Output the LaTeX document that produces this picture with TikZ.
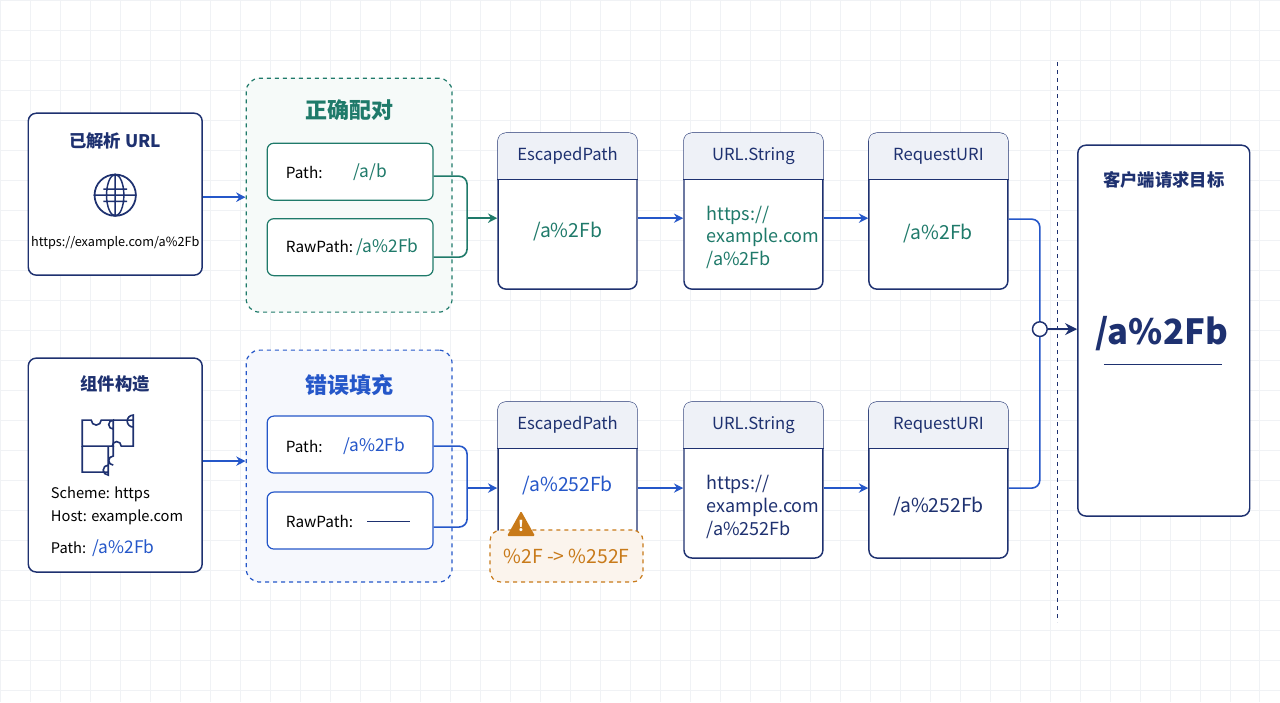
\documentclass[tikz,border=0pt]{standalone}
\usepackage{fontspec}
\setmainfont{Noto Sans CJK SC}
\usetikzlibrary{arrows.meta,positioning,calc}
\definecolor{navy}{HTML}{1E3170}
\definecolor{flowblue}{HTML}{2557C9}
\definecolor{teal}{HTML}{1F7A6A}
\definecolor{warnor}{HTML}{C87A1A}
\definecolor{hdrfill}{HTML}{EEF1F7}
\definecolor{gridc}{HTML}{F0F2F5}
\tikzset{
  box/.style={draw=navy,line width=1.1pt,rounded corners=6pt,fill=white,inner sep=0pt},
  field/.style={draw=#1,line width=0.9pt,rounded corners=5pt,fill=white,inner sep=0pt,
    minimum width=124.5pt,minimum height=42.75pt},
  group/.style={draw=#1,dashed,line width=0.9pt,rounded corners=10pt,fill=#1!4,inner sep=0pt,
    minimum width=154.5pt},
  stage/.style={box,minimum width=104.25pt,minimum height=117pt},
  hdr/.style={font=\fontsize{12.5}{14}\selectfont,text=navy},
  val/.style={font=\fontsize{14.5}{17}\selectfont,text=#1},
  flow/.style={draw=flowblue,line width=1.2pt,-{Stealth[length=7pt,width=7pt]}},
  link/.style={draw=#1,line width=1.2pt,rounded corners=6pt},
}
% header band of a stage box
\newcommand{\stagehead}[1]{%
  \fill[hdrfill] ([shift={(0.55pt,-35.25pt)}]#1.north west)
    {[rounded corners=5.5pt] -- ([shift={(0.55pt,-0.55pt)}]#1.north west)
     -- ([shift={(-0.55pt,-0.55pt)}]#1.north east)} -- ([shift={(-0.55pt,-35.25pt)}]#1.north east) -- cycle;
  \draw[navy,line width=1.1pt] ([yshift=-35.25pt]#1.north west) -- ([yshift=-35.25pt]#1.north east);}
\begin{document}
\begin{tikzpicture}[x=0.75pt,y=-0.75pt]
\fill[white] (0,0) rectangle (1280,702);
\foreach \g in {0,30,...,1280} \draw[gridc,line width=0.4pt] (\g,0) -- (\g,702);
\foreach \g in {0,30,...,702} \draw[gridc,line width=0.4pt] (0,\g) -- (1280,\g);
\useasboundingbox (0,0) rectangle (1280,702);

% source boxes
\node[box,minimum width=130.5pt,minimum height=121.5pt] (srcA) at (115,194) {};
\node[hdr,font=\fontsize{13}{15}\selectfont\bfseries] (srcAt) at (115,141) {已解析 URL};
\node[draw=navy,line width=1.3pt,circle,minimum size=31pt] (globe) at (115,195) {};
\draw[navy,line width=1.1pt] (globe) ellipse (6.5pt and 15.5pt) (globe.west) -- (globe.east)
  ($(globe.north west)!.3!(globe.south west)+(2.5pt,0)$) -- ($(globe.north east)!.3!(globe.south east)+(-2.5pt,0)$)
  ($(globe.north west)!.7!(globe.south west)+(2.5pt,0)$) -- ($(globe.north east)!.7!(globe.south east)+(-2.5pt,0)$)
  (globe.north) -- (globe.south);
\node[font=\fontsize{9.5}{11}\selectfont,text=black] (srcAu) at (115,243) {https://example.com/a\%2Fb};

\node[box,minimum width=130.5pt,minimum height=160.5pt] (srcB) at (115,465) {};
\node[hdr,font=\fontsize{13}{15}\selectfont\bfseries] (srcBt) at (115,384) {组件构造};
\begin{scope}[navy,line width=1.2pt]
  \draw (82,420) -- (91,420) arc[start angle=180,end angle=0,radius=5] -- (113,420) -- (113,429)
        arc[start angle=90,end angle=270,radius=4.5] -- (113,446) -- (82,446) -- cycle;
  \draw (113,420) -- (133,420) -- (133,427) arc[start angle=-90,end angle=90,radius=-6] -- (133,446)
        -- (121,446) arc[start angle=0,end angle=-180,radius=4.5] -- (113,446);
  \draw (82,446) -- (82,472) -- (108,472) -- (108,465) arc[start angle=90,end angle=-90,radius=-5] -- (108,446);
  \draw (113,446) -- (113,456) arc[start angle=270,end angle=90,radius=4.5];
\end{scope}
\node[anchor=west,font=\fontsize{11}{13}\selectfont] (schm) at (46,494) {Scheme: https};
\node[anchor=west,font=\fontsize{11}{13}\selectfont] (host) at (46,517) {Host: example.com};
\node[anchor=west,font=\fontsize{11}{13}\selectfont] (pth) at (46,548) {Path:\ \ \textcolor{flowblue}{\fontsize{13}{15}\selectfont/a\%2Fb}};

% groups
\node[group=teal,minimum height=175.5pt] (grpG) at (349,195) {};
\node[val=teal,font=\fontsize{16.5}{18}\selectfont\bfseries] (grpGt) at (349,110) {正确配对};
\node[field=teal] (pathG) at (350,171.5) {};
\node[anchor=west,font=\fontsize{11.5}{13}\selectfont] at (281,172) {Path:};
\node[val=teal,font=\fontsize{13}{15}\selectfont] at (370,172) {/a/b};
\node[field=teal] (rawG) at (350,247) {};
\node[anchor=west,font=\fontsize{11.5}{13}\selectfont] at (281,247) {RawPath:\ \textcolor{teal}{\fontsize{13}{15}\selectfont/a\%2Fb}};

\node[group=flowblue,minimum height=174pt] (grpB) at (349,466) {};
\node[val=flowblue,font=\fontsize{16.5}{18}\selectfont\bfseries] (grpBt) at (349,385) {错误填充};
\node[field=flowblue] (pathB) at (350,444.5) {};
\node[anchor=west,font=\fontsize{11.5}{13}\selectfont] at (281,446) {Path:};
\node[val=flowblue,font=\fontsize{13}{15}\selectfont] at (374,446) {/a\%2Fb};
\node[field=flowblue] (rawB) at (350,520.5) {};
\node[anchor=west,font=\fontsize{11.5}{13}\selectfont] at (281,521) {RawPath:};
\draw[navy,line width=0.8pt] (367,521) -- (410,521);

% stages
\foreach \n/\x/\y/\t in {e1/567.5/211/EscapedPath,u1/753.5/211/URL.String,r1/938.5/211/RequestURI,
  e2/567.5/480/EscapedPath,u2/753.5/480/URL.String,r2/938.5/480/RequestURI}{
  \node[stage] (\n) at (\x,\y) {};
  \stagehead{\n}
  \node[hdr] at ($(\n.north)+(0,-17.6pt)$) {\t};
}
\node[val=teal] at (567.5,231) {/a\%2Fb};
\node[val=teal,align=left,anchor=west,font=\fontsize{13.5}{17}\selectfont] at (702,237) {https://\\example.com\\/a\%2Fb};
\node[val=teal] at (938.5,233) {/a\%2Fb};
\node[val=flowblue] at (567.5,485) {/a\%252Fb};
\node[val=navy,align=left,anchor=west,font=\fontsize{13.5}{17}\selectfont] at (702,507) {https://\\example.com\\/a\%252Fb};
\node[val=navy] at (938.5,506) {/a\%252Fb};

% warning
\node[draw=warnor,dashed,line width=0.9pt,rounded corners=8pt,fill=warnor!8,
  minimum width=114.75pt,minimum height=39pt] (warn) at (566.5,556) {};
\node[val=warnor] at (566.5,556) {\%2F -> \%252F};
\fill[warnor,rounded corners=1pt] (521,511) -- (535,536) -- (507,536) -- cycle;
\node[text=white,font=\fontsize{11}{12}\selectfont\bfseries] (warni) at (521,526) {!};

% target
\draw[navy,dashed,line width=0.9pt] (1058,62) -- (1058,622);
\node[box,minimum width=129pt,minimum height=278.25pt] (tgt) at (1164,330.5) {};
\node[hdr,font=\fontsize{13}{15}\selectfont\bfseries] at (1164,180) {客户端请求目标};
\node[text=navy,font=\fontsize{26}{28}\selectfont\bfseries] (tgtv) at (1162,333) {/a\%2Fb};
\draw[navy,line width=0.9pt] (1104,364) -- (1222,364);

% connectors
\draw[flow] (srcA.east |- 0,197) -- (grpG.west |- 0,197);
\draw[flow] (srcB.east |- 0,461) -- (grpB.west |- 0,461);
\coordinate (jG) at (467,218);
\draw[link=teal] (pathG.east |- 0,176) -| (jG);
\draw[link=teal] (rawG.east |- 0,257) -| (jG);
\draw[flow,draw=teal] (jG) -- (e1.west |- jG);
\coordinate (jB) at (467,488);
\draw[link=flowblue] (pathB.east |- 0,446) -| (jB);
\draw[link=flowblue] (rawB.east |- 0,527) -| (jB);
\draw[flow] (jB) -- (e2.west |- jB);
\draw[flow] (e1.east |- 0,218) -- (u1.west |- 0,218);
\draw[flow] (u1.east |- 0,218) -- (r1.west |- 0,218);
\draw[flow] (e2.east |- 0,488) -- (u2.west |- 0,488);
\draw[flow] (u2.east |- 0,488) -- (r2.west |- 0,488);
\coordinate (mJ) at (1040,329);
\draw[link=flowblue] (r1.east |- 0,219) -| (mJ);
\draw[link=flowblue] (r2.east |- 0,488) -| (mJ);
\node[draw=navy,line width=1.1pt,fill=white,circle,minimum size=11pt,inner sep=0pt] (mC) at (mJ) {};
\draw[flow,draw=navy,-{Stealth[length=9pt,width=9pt]}] (mC.east) -- (tgt.west |- mC);
\end{tikzpicture}
\end{document}
